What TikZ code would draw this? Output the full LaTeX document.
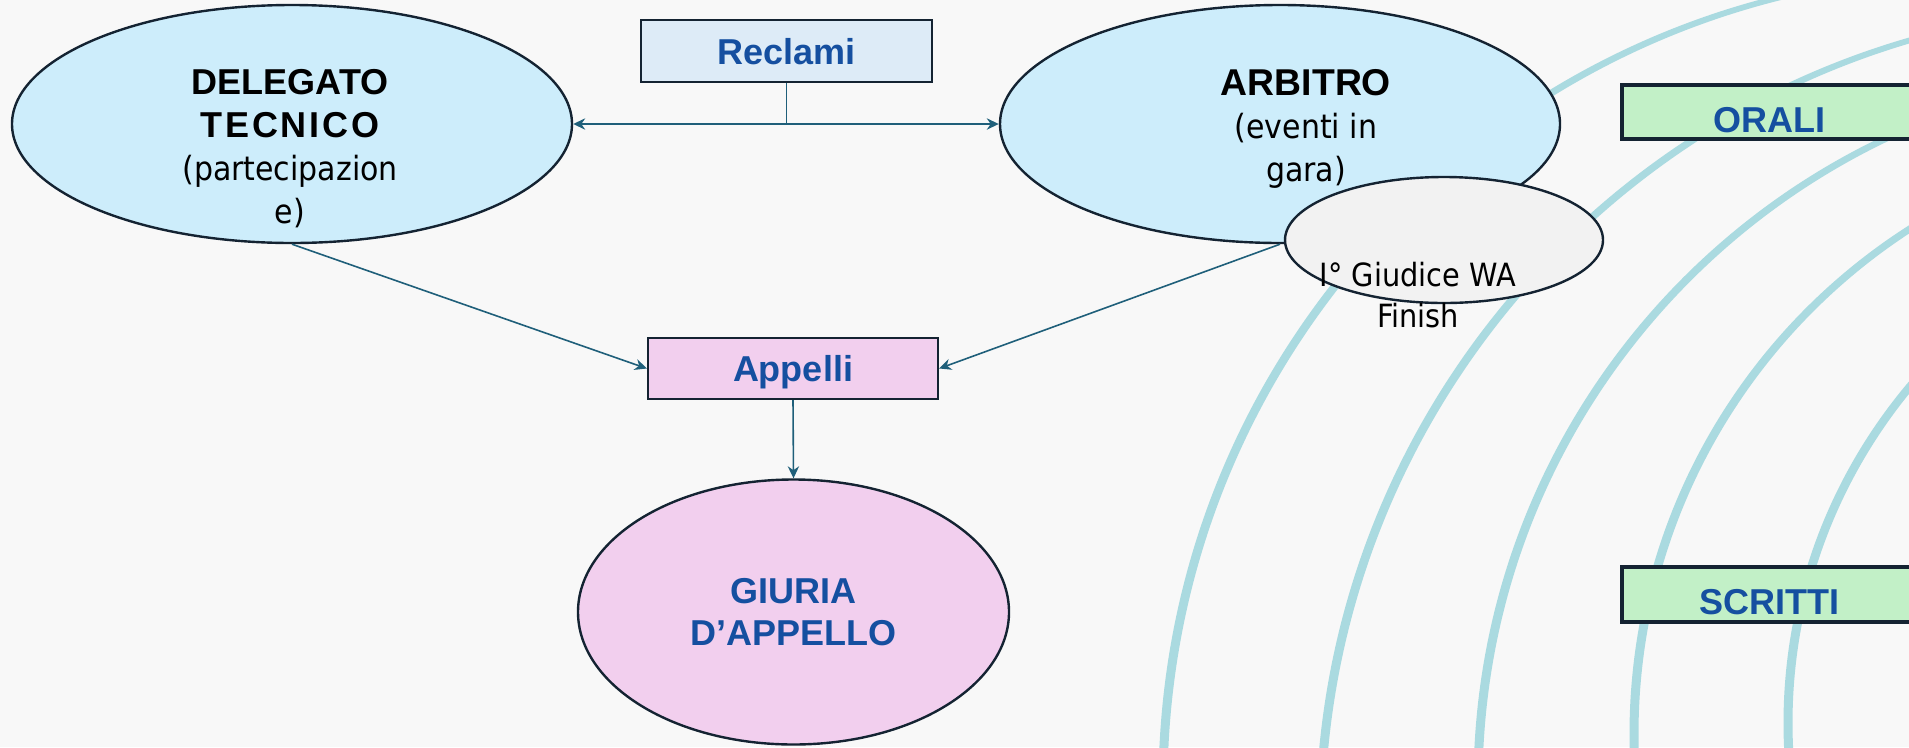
\documentclass[tikz,border=0pt]{standalone}
\usepackage{fontspec}
\setmainfont{Liberation Sans}
\newfontfamily\tahoma[FakeStretch=0.9]{DejaVu Sans}
\usetikzlibrary{shapes.geometric,arrows.meta}

\definecolor{edgeCol}{RGB}{20,35,50}
\definecolor{linkCol}{RGB}{31,95,122}
\definecolor{titleBlue}{RGB}{21,79,160}
\definecolor{skyFill}{RGB}{205,237,251}
\definecolor{paleBlue}{RGB}{221,235,247}
\definecolor{pinkFill}{RGB}{242,207,238}
\definecolor{mintFill}{RGB}{194,240,199}
\definecolor{greyFill}{RGB}{242,242,242}
\definecolor{laneCol}{RGB}{170,218,224}
\definecolor{paperCol}{RGB}{248,248,248}

\tikzset{every picture/.style={line width=0.75pt}}
\tikzset{
  oval/.style={ellipse, draw=edgeCol, line width=1.8pt, inner sep=0pt},
  tagbox/.style={rectangle, draw=edgeCol, line width=1.8pt, inner sep=0pt,
    font=\bfseries\fontsize{27}{32}\selectfont, text=titleBlue,
    text height=20pt, text depth=0pt},
  sidebox/.style={tagbox, fill=mintFill, line width=2.4pt, text height=30pt,
    minimum width=220.5pt},
  link/.style={draw=linkCol, line width=1.2pt},
  lane/.style={fill=laneCol, even odd rule},
}

\begin{document}
\begin{tikzpicture}[x=0.75pt,y=0.75pt,yscale=-1,xscale=1,>={Stealth[length=9pt,width=8.5pt]}]
\useasboundingbox (0,0) rectangle (1909,747);
\fill[paperCol] (0,0) rectangle (1909,747);

%Track lanes (thicker towards the bottom)
\begin{scope}
\clip (0,0) rectangle (1909,747);
\foreach \cx/\cy/\r in {1973/786/812, 2137/827/819, 2190/784/714, 2232/734/600, 2311/723/525}
  \path[lane] (\cx,\cy) circle [radius=\r+2.5] (\cx+4.5,\cy) circle [radius=\r-2];
\end{scope}

%Shape: Ellipse
\node[oval, fill=skyFill, minimum width=420pt, minimum height=178.5pt] (delegato) at (292,124) {};
%Shape: Ellipse
\node[oval, fill=skyFill, minimum width=420pt, minimum height=178.5pt] (arbitro) at (1280,124) {};
%Shape: Ellipse
\node[oval, fill=greyFill, minimum width=238.5pt, minimum height=94.5pt] (finish) at (1444,240) {};
%Shape: Ellipse
\node[oval, fill=pinkFill, minimum width=323.25pt, minimum height=198.75pt, align=center,
  font=\bfseries\fontsize{27}{31.5}\selectfont, text=titleBlue] (giuria) at (793.5,612) {GIURIA\\D’APPELLO};

%Shape: Rectangle
\node[tagbox, fill=paleBlue, minimum width=218.25pt, minimum height=46.5pt] (reclami) at (786.5,51) {Reclami};
%Shape: Rectangle
\node[tagbox, fill=pinkFill, minimum width=217.5pt, minimum height=45.75pt] (appelli) at (793,368.5) {Appelli};
%Shape: Rectangle
\node[sidebox, minimum height=40.5pt] (orali) at (1769,112) {ORALI};
%Shape: Rectangle
\node[sidebox, minimum height=41.25pt] (scritti) at (1769,594.5) {SCRITTI};

%Straight Lines
\draw[link] (reclami.south) -- (reclami.south |- delegato.east);
\draw[link,<->] (delegato.east) -- (arbitro.west);
\draw[link,->] (delegato.south) -- (appelli.west);
\draw[link,->] (arbitro.south) -- (appelli.east);
\draw[link,->] (appelli.south) -- (giuria.north);

% Text Node
\node[anchor=north, align=center, inner sep=0pt, font=\fontsize{27}{32.25}\selectfont] (delText) at (290,69)
  {\textbf{DELEGATO}\\{\bfseries\addfontfeature{LetterSpace=8}TECNICO}\\{\tahoma\fontsize{25}{32.25}\selectfont(partecipazion}\\{\tahoma\fontsize{25}{32.25}\selectfont e)}};
% Text Node
\node[anchor=north, align=center, inner sep=0pt, font=\fontsize{28}{32.25}\selectfont] (arbText) at (1306,69)
  {\textbf{ARBITRO}\\{\tahoma\fontsize{25}{32.25}\selectfont(eventi\ in}\\{\tahoma\fontsize{25}{32.25}\selectfont gara)}};
% Text Node
\node[anchor=north, align=center, inner sep=0pt, font=\tahoma\fontsize{24}{30.75}\selectfont] (finText) at (1418,262)
  {I° Giudice WA\\Finish};

\end{tikzpicture}
\end{document}
